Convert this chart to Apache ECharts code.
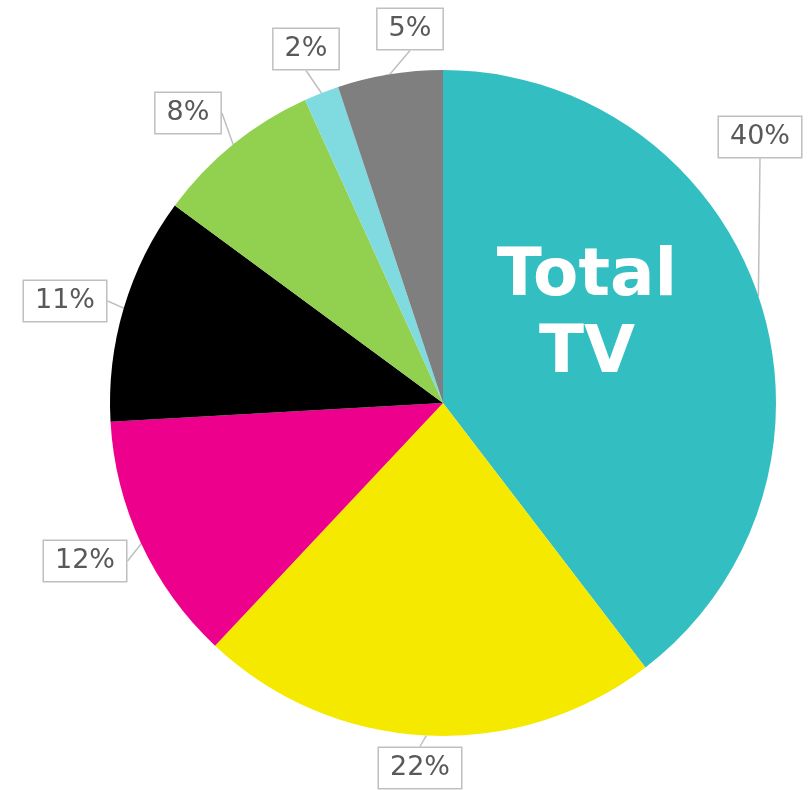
<!DOCTYPE html>
<html>
<head>
<meta charset="utf-8">
<script src="https://cdn.jsdelivr.net/npm/echarts@6/dist/echarts.min.js"></script>
<style>html,body{margin:0;padding:0;background:#fff;}#c{width:812px;height:790px;}</style>
</head>
<body>
<div id="c"></div>
<script>
const categories = ["Total TV", "Segment 2", "Segment 3", "Segment 4", "Segment 5", "Segment 6", "Segment 7"];
const values = [39.6, 22.4, 12.1, 11.0, 8.1, 1.7, 5.1];
const labels = ["40%", "22%", "12%", "11%", "8%", "2%", "5%"];
const colors = ["#33BFC1", "#F5E900", "#EC008C", "#000000", "#92D050", "#7FDBE0", "#7F7F7F"];

const labelPos = [[760,137],[420,768],[85,561],[65,301],[188,113],[306,49],[410,29]];

const chart = echarts.init(document.getElementById('c'), null, {renderer:'canvas'});
chart.setOption({
  animation: false,
  backgroundColor: '#ffffff',
  series: [{
    type: 'pie',
    left: -1000,
    top: -1000,
    width: 3000,
    height: 3000,
    center: [1443, 1403],
    radius: 333,
    startAngle: 90,
    clockwise: true,
    data: categories.map((n, i) => ({name: n, value: values[i], itemStyle: {color: colors[i]}})),
    label: {
      show: true,
      position: 'outside',
      alignTo: 'none',
      formatter: p => labels[p.dataIndex],
      fontFamily: 'DejaVu Sans',
      fontSize: 27,
      color: '#595959',
      backgroundColor: '#ffffff',
      borderColor: '#BFBFBF',
      borderWidth: 1.5,
      padding: [6, 11, 4, 11],
      lineHeight: 30,
      overflow: 'none'
    },
    labelLine: {
      show: true,
      length: 10,
      length2: 0,
      smooth: false,
      lineStyle: {color: '#BFBFBF', width: 1.5}
    },
    labelLayout: function (p) {
      const pos = labelPos[p.dataIndex];
      return {x: pos[0], y: pos[1], align: 'center', verticalAlign: 'middle'};
    },
    emphasis: {disabled: true}
  }],
  graphic: [{
    type: 'text',
    z: 100,
    x: 587,
    y: 239,
    style: {
      text: 'Total\nTV',
      fill: '#ffffff',
      fontFamily: 'DejaVu Sans',
      fontWeight: 'bold',
      fontSize: 66,
      align: 'center',
      lineHeight: 77
    }
  }]
});
</script>
</body>
</html>
